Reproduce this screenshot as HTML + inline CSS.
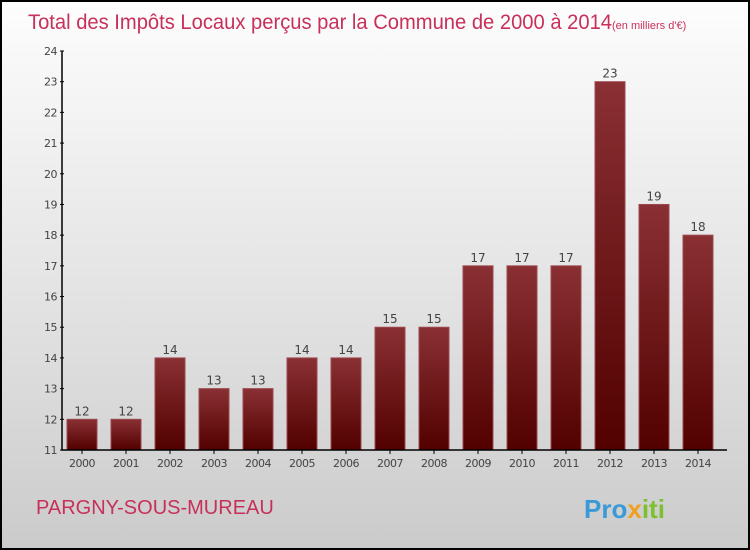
<!DOCTYPE html>
<html><head><meta charset="utf-8"><style>
body{margin:0;}
#c{width:750px;height:550px;position:relative;box-sizing:border-box;border:2px solid #000;background:linear-gradient(#fdfdfd,#e0e0e0 60%,#cbcbcb);font-family:"DejaVu Sans","Liberation Sans",sans-serif;overflow:hidden}
</style></head><body>
<div id="c">
<svg width="746" height="546" style="position:absolute;left:0;top:0">
<defs><linearGradient id="bg" x1="0" y1="0" x2="0" y2="1"><stop offset="0" stop-color="#8a3034"/><stop offset="1" stop-color="#520000"/></linearGradient></defs>
<text x="26" y="27" font-size="21" fill="#c8305a" font-family="Liberation Sans,sans-serif"><tspan textLength="584" lengthAdjust="spacingAndGlyphs">Total des Impôts Locaux perçus par la Commune de 2000 à 2014</tspan><tspan font-size="11">(en milliers d'€)</tspan></text>
<g id="g"></g>
<text x="34" y="512" font-size="20" fill="#c8305a" font-family="Liberation Sans,sans-serif">PARGNY-SOUS-MUREAU</text>
<text x="582" y="516" font-size="26" font-weight="bold" fill="#3a9ad8" font-family="Liberation Sans,sans-serif">Pro<tspan fill="#f0a020">x</tspan><tspan fill="#7cc030">iti</tspan></text>
</svg>
</div>
<script>
const years=["2000","2001","2002","2003","2004","2005","2006","2007","2008","2009","2010","2011","2012","2013","2014"];
const values=[12,12,14,13,13,14,14,15,15,17,17,17,23,19,18];
const yTicks=[11,12,13,14,15,16,17,18,19,20,21,22,23,24];
const ns="http://www.w3.org/2000/svg",g=document.getElementById('g');
const y0=448,yT=49,vmin=11,vmax=24;
const y=v=>y0-(v-vmin)/(vmax-vmin)*(y0-yT);
const x=i=>80+i*44;
function mk(t,a){const e=document.createElementNS(ns,t);for(const k in a)e.setAttribute(k,a[k]);g.appendChild(e);return e;}
yTicks.forEach(v=>{
 const l=mk('line',{x1:58,x2:62,y1:y(v),y2:y(v),stroke:'#000'});
 
 
 const t=mk('text',{x:55,y:y(v)+4,'font-size':11,'text-anchor':'end',fill:'#444','letter-spacing':'-0.5'});t.textContent=v;
 
 
});
values.forEach((v,i)=>{
 const r=mk('rect',{x:x(i)-15,y:y(v),width:30,height:y0-y(v),fill:'url(#bg)',stroke:'#9a4a4e','stroke-width':1});
 
 
 const t=mk('text',{x:x(i),y:y(v)-4,'font-size':12,'text-anchor':'middle',fill:'#444'});t.textContent=v;
 
 
 const k=mk('line',{x1:x(i),x2:x(i),y1:y0,y2:y0+4,stroke:'#000'});
 
 
 const yl=mk('text',{x:x(i),y:y0+17,'font-size':11,'text-anchor':'middle',fill:'#444','letter-spacing':'-0.5'});yl.textContent=years[i];
 
 
});
const ax=mk('path',{d:`M60 ${yT} V${y0} H725`,stroke:'#000',fill:'none','stroke-width':1.5});


</script>
</body></html>
